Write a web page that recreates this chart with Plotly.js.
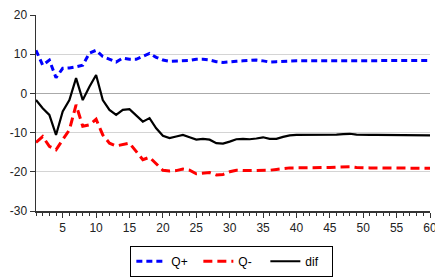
<!DOCTYPE html>
<html><head><meta charset="utf-8">
<script src="https://cdn.plot.ly/plotly-3.0.1.min.js"></script>
<style>body{margin:0;padding:0;background:#fff}#chart{width:435px;height:279px}</style>
</head><body><div id="chart"></div>
<script>
const xs = [];
for (let i = 1; i <= 60; i++) xs.push(i);
const qPlus = [11, 7.2, 8.5, 4, 6.4, 6.5, 6.8, 7.2, 10.3, 11,
  9.4, 8.7, 8, 9, 8.7, 8.7, 9.4, 10.2, 9.2, 8.5,
  8.2, 8.3, 8.4, 8.4, 8.7, 8.7, 8.5, 8.1, 7.9, 8.1,
  8.2, 8.3, 8.4, 8.5, 8.3, 8.0, 8.1, 8.2, 8.3, 8.3,
  8.3, 8.3, 8.3, 8.3, 8.3, 8.3, 8.3, 8.4, 8.4, 8.4,
  8.4, 8.4, 8.4, 8.4, 8.4, 8.4, 8.4, 8.4, 8.4, 8.4];
const qMinus = [-12.5, -11, -13.5, -14.4, -11.8, -9.3, -2.9, -8.4, -8, -6.6,
  -10.6, -12.7, -13.4, -13, -12.7, -14.8, -16.9, -16.3, -17.9, -19.6,
  -19.8, -19.7, -19.3, -19.6, -20.5, -20.4, -20.2, -20.8, -20.7, -20,
  -19.6, -19.7, -19.7, -19.7, -19.6, -19.6, -19.4, -19.2, -19, -19,
  -19, -19, -18.9, -18.9, -18.9, -18.8, -18.8, -18.7, -18.9, -19,
  -19, -19, -19, -19, -19.1, -19.1, -19.1, -19.1, -19.1, -19.1];
const dif = [-1.7, -3.8, -5.5, -10.6, -4.6, -1.7, 3.9, -1.7, 1.7, 4.7,
  -1.7, -4.2, -5.5, -4.2, -4, -5.7, -7.2, -6.3, -8.9, -10.8,
  -11.4, -11, -10.6, -11.2, -11.8, -11.6, -11.8, -12.7, -12.8, -12.3,
  -11.7, -11.6, -11.7, -11.5, -11.2, -11.6, -11.6, -11.1, -10.7, -10.6,
  -10.6, -10.6, -10.6, -10.5, -10.6, -10.5, -10.4, -10.3, -10.5, -10.6,
  -10.6, -10.6, -10.6, -10.6, -10.6, -10.6, -10.6, -10.6, -10.7, -10.7];
const names = ['Q+', 'Q-', 'dif'];
const xTicks = [5, 10, 15, 20, 25, 30, 35, 40, 45, 50, 55, 60];
const yTicks = [-30, -20, -10, 0, 10, 20];

const traces = [
  {x: xs, y: qPlus, name: names[0], mode: 'lines', line: {color: '#0000ff', width: 3, dash: '6px,4px'}},
  {x: xs, y: qMinus, name: names[1], mode: 'lines', line: {color: '#ff0000', width: 3, dash: '9px,5px'}},
  {x: xs, y: dif, name: names[2], mode: 'lines', line: {color: '#000000', width: 2.2}}
];
const layout = {
  width: 435, height: 279,
  margin: {l: 36, r: 5, t: 15, b: 68},
  paper_bgcolor: '#fff', plot_bgcolor: '#fff',
  font: {family: 'Liberation Sans, Arial, sans-serif', size: 12, color: '#222'},
  showlegend: true,
  legend: {orientation: 'h', x: 0.533, xref: 'container', xanchor: 'center',
    y: 0.008, yref: 'container', yanchor: 'bottom',
    bordercolor: '#000', borderwidth: 1, font: {size: 12, color: '#000'},
    itemwidth: 30, entrywidth: 22, entrywidthmode: 'pixels', tracegroupgap: 0},
  xaxis: {range: [1, 60], tickvals: xTicks, ticktext: xTicks.map(String), ticklabeloverflow: 'allow',
    ticks: 'outside', ticklen: 5, tickcolor: '#333', showline: true, linecolor: '#333', linewidth: 1.5,
    showgrid: false, zeroline: false,
    minor: {dtick: 1, tick0: 0, ticks: 'outside', ticklen: 3, tickcolor: '#333', showgrid: false}},
  yaxis: {range: [-30, 20], tickvals: yTicks, ticktext: yTicks.map(String),
    ticks: 'outside', ticklen: 5, tickcolor: '#333', showline: true, linecolor: '#333', linewidth: 1.5,
    showgrid: true, gridcolor: '#d4d4d4', gridwidth: 1, zeroline: true, zerolinecolor: '#aaaaaa', zerolinewidth: 1.5}
};
Plotly.newPlot('chart', traces, layout, {staticPlot: true, displayModeBar: false});
</script></body></html>
